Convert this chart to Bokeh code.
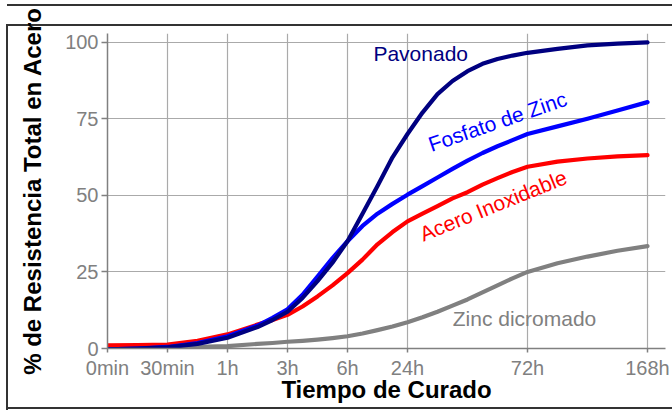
from bokeh.plotting import figure
from bokeh.models import FixedTicker, Range1d, Label
from bokeh.embed import file_html
from bokeh.resources import INLINE

# x tick positions (category index) and their labels
tick_pos = [0, 1, 2, 3, 4, 5, 7, 9]
tick_labels = ["0min", "30min", "1h", "3h", "6h", "24h", "72h", "168h"]
y_ticks = [0, 25, 50, 75, 100]

x_read = [0, 0.5, 1, 1.5, 2, 2.5, 2.75, 3, 3.25, 3.5, 3.75, 4, 4.25, 4.5, 4.75,
          5, 5.25, 5.5, 5.75, 6, 6.25, 6.5, 6.75, 7, 7.5, 8, 8.5, 9]

zinc_dicromado = [0, 0.1, 0.3, 0.5, 0.8, 1.5, 1.8, 2.2, 2.5, 2.9, 3.4, 4.0, 4.9, 6.0, 7.2,
                  8.6, 10.2, 12, 14, 16, 18.3, 20.6, 22.9, 25, 27.8, 30, 31.9, 33.4]
acero_inox = [1.0, 1.1, 1.3, 2.5, 4.6, 7.8, 9.3, 11, 13.7, 17, 20.6, 24.6, 29, 34, 38,
              41.5, 44, 46.5, 49, 51, 53.5, 55.6, 57.6, 59.3, 61.0, 62.0, 62.7, 63.1]
fosfato_zinc = [-0.3, 0, 0.5, 1.8, 4.0, 7.5, 10, 12.8, 17.5, 23.5, 29.5, 35, 40, 44, 47.2,
                50.2, 53, 55.8, 58.6, 61.3, 63.8, 66, 68, 70, 72.5, 75, 77.7, 80.4]
pavonado = [-0.3, 0, 0.4, 1.5, 3.5, 7, 9.3, 12, 16.5, 22, 28, 35, 44, 53, 62.4,
            70, 77, 83, 87.3, 90.5, 92.9, 94.5, 95.6, 96.5, 97.8, 98.9, 99.5, 99.9]

FONT = "Liberation Sans"

p = figure(width=672, height=410, output_backend="svg", toolbar_location=None,
           x_range=Range1d(0, 9.3), y_range=Range1d(0, 102.8),
           min_border_left=107, min_border_right=7, min_border_top=33, min_border_bottom=62)
p.outline_line_color = None
p.background_fill_color = "white"
# transparent border area so that the page background (with the outer frame rules) shows
p.border_fill_color = None
p.styles = {
    "background": ("linear-gradient(#333,#333) 7px 4px / 100% 2px no-repeat, "
                   "linear-gradient(#333,#333) 6px 24px / 100% 2px no-repeat, "
                   "linear-gradient(#333,#333) 6px 24px / 2px 100% no-repeat, "
                   "linear-gradient(#333,#333) 6px 407px / 100% 2px no-repeat, "
                   "white"),
}

# axes
p.xaxis.ticker = FixedTicker(ticks=tick_pos)
p.xaxis.major_label_overrides = {t: l for t, l in zip(tick_pos, tick_labels)}
p.yaxis.ticker = FixedTicker(ticks=y_ticks)
p.xaxis.minor_tick_line_color = None
p.yaxis.minor_tick_line_color = None
for ax in (p.xaxis, p.yaxis):
    ax.axis_line_color = "#808080"
    ax.axis_line_width = 1.5
    ax.major_tick_line_color = "#808080"
    ax.major_tick_line_width = 1.5
    ax.major_tick_in = 0
    ax.major_label_text_font = FONT
    ax.major_label_text_font_size = "20px"
    ax.major_label_text_color = "#808080"
    ax.axis_label_text_font = FONT
    ax.axis_label_text_font_style = "bold"
    ax.axis_label_text_color = "black"
p.xaxis.major_tick_out = 4
p.yaxis.major_tick_out = 6
p.xaxis.major_label_standoff = 4
p.yaxis.major_label_standoff = 3
p.xaxis.axis_label = "Tiempo de Curado"
p.xaxis.axis_label_text_font_size = "24px"
p.xaxis.axis_label_standoff = -6
p.yaxis.axis_label = "% de Resistencia Total en Acero"
p.yaxis.axis_label_text_font_size = "24px"
p.yaxis.axis_label_standoff = 16

p.xgrid.ticker = FixedTicker(ticks=tick_pos)
p.ygrid.ticker = FixedTicker(ticks=y_ticks)
for g in (p.xgrid, p.ygrid):
    g.grid_line_color = "#aaaaaa"
    g.grid_line_width = 1.2

series = [
    (zinc_dicromado, "#808080"),
    (acero_inox, "#ff0000"),
    (fosfato_zinc, "#0000ff"),
    (pavonado, "#000080"),
]
for ys, col in series:
    p.line(x_read, ys, line_color=col, line_width=4.2, line_join="round", line_cap="round")

# series labels
lab_kw = dict(text_font=FONT, text_font_size="21px", text_align="center", text_baseline="middle")
p.add_layout(Label(x=5.22, y=96.2, text="Pavonado", text_color="#000080", **lab_kw))
p.add_layout(Label(x=6.50, y=74.1, text="Fosfato de Zinc", text_color="#0000ff", angle=19, angle_units="deg", **lab_kw))
p.add_layout(Label(x=6.43, y=46.7, text="Acero Inoxidable", text_color="#ff0000", angle=22, angle_units="deg", **lab_kw))
p.add_layout(Label(x=6.95, y=9.8, text="Zinc dicromado", text_color="#808080", **lab_kw))

open("out.html", "w").write(file_html(p, INLINE))
